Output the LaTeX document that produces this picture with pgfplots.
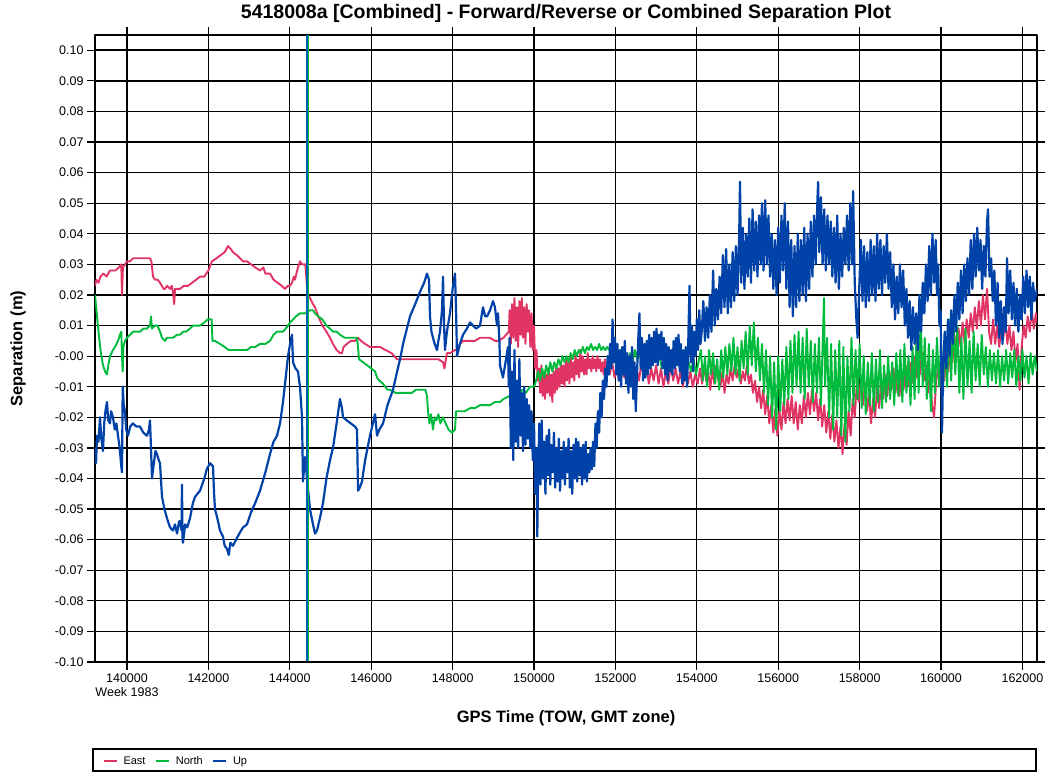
\documentclass[border=0pt]{standalone}
\usepackage{pgfplots}
\usepackage{pgfplotstable}
\pgfplotsset{compat=1.18}
\usepackage{fontspec}
\setmainfont{Liberation Sans}
\definecolor{eastc}{RGB}{224,52,100}
\definecolor{northc}{RGB}{0,187,60}
\definecolor{upc}{RGB}{0,66,168}

\pgfplotstableread{
x y
139214 0.023
139250 0.025
139300 0.024
139350 0.026
139420 0.027
139500 0.026
139580 0.028
139650 0.028
139720 0.028
139800 0.029
139860 0.030
139877 0.020
139900 0.029
139951 0.030
140000 0.031
140074 0.031
140150 0.032
140250 0.032
140319 0.032
140400 0.032
140491 0.032
140565 0.032
140600 0.031
140640 0.026
140688 0.025
140750 0.025
140811 0.024
140900 0.022
140934 0.022
140983 0.023
141057 0.022
141100 0.023
141130 0.021
141160 0.017
141180 0.022
141229 0.022
141302 0.022
141400 0.023
141500 0.023
141600 0.024
141700 0.025
141794 0.026
141900 0.026
142000 0.028
142088 0.031
142200 0.032
142300 0.033
142400 0.034
142482 0.036
142550 0.035
142604 0.034
142700 0.033
142776 0.032
142850 0.031
142948 0.031
143050 0.030
143150 0.029
143268 0.028
143350 0.029
143400 0.027
143514 0.027
143600 0.025
143700 0.024
143800 0.023
143882 0.022
143956 0.023
144005 0.023
144054 0.024
144100 0.026
144128 0.025
144180 0.028
144251 0.031
144300 0.030
144380 0.030
144440 0.020
144496 0.019
144570 0.017
144619 0.016
144700 0.013
144800 0.010
144900 0.008
144988 0.006
145061 0.004
145150 0.002
145233 0.001
145282 0.001
145320 0.003
145405 0.004
145500 0.005
145602 0.005
145676 0.006
145750 0.005
145850 0.004
145971 0.003
146094 0.003
146216 0.003
146350 0.002
146500 0.001
146634 -0.001
146750 -0.001
146900 -0.001
147050 -0.001
147200 -0.001
147350 -0.001
147500 -0.001
147650 -0.001
147764 -0.002
147800 -0.004
147836 -0.001
147862 0.001
147936 0.001
148059 0.002
148108 0.002
148182 0.004
148256 0.005
148350 0.005
148428 0.005
148550 0.005
148673 0.006
148800 0.006
148919 0.006
149040 0.005
149115 0.005
149250 0.006
149380 0.008
149400 0.015
149430 0.004
149460 0.017
149490 0.006
149520 0.019
149550 0.005
149580 0.016
149610 0.003
149640 0.018
149670 0.007
149700 0.019
149730 0.006
149760 0.016
149790 0.004
149820 0.017
149850 0.008
149880 0.015
149910 0.003
149940 0.014
149970 0.002
150000 0.010
150030 -0.004
150060 0.002
150090 -0.008
150120 -0.004
150150 -0.012
150180 -0.003
150210 -0.013
150240 -0.005
150270 -0.014
150300 -0.006
150330 -0.012
150360 -0.004
150390 -0.013
150420 -0.006
150450 -0.015
150480 -0.005
150510 -0.012
150540 -0.003
150570 -0.011
150600 -0.004
150630 -0.010
150660 -0.002
150690 -0.009
150720 -0.003
150750 -0.010
150780 -0.001
150810 -0.008
150840 -0.002
150870 -0.009
150900 0.000
150930 -0.007
150960 -0.002
150990 -0.008
151020 0.001
151050 -0.006
151080 -0.001
151110 -0.007
151140 0.002
151170 -0.005
151200 0.000
151230 -0.006
151260 -0.001
151290 -0.006
151320 0.001
151350 -0.004
151380 -0.001
151410 -0.005
151440 0.000
151470 -0.004
151500 -0.001
151530 -0.005
151560 0.000
151590 -0.004
151620 -0.001
151650 -0.005
151680 -0.002
151710 -0.006
151740 -0.001
151770 -0.004
151800 -0.002
151860 -0.006
151920 -0.002
151980 -0.007
152040 -0.003
152100 -0.008
152160 -0.002
152220 -0.007
152280 -0.001
152340 -0.008
152400 -0.003
152460 -0.009
152520 -0.004
152580 -0.008
152640 -0.002
152700 -0.007
152760 -0.003
152820 -0.009
152880 -0.004
152940 -0.008
153000 -0.003
153060 -0.009
153120 -0.004
153180 -0.010
153240 -0.005
153300 -0.009
153360 -0.003
153420 -0.008
153480 -0.004
153540 -0.009
153600 -0.005
153660 -0.010
153720 -0.004
153780 -0.009
153840 -0.005
153900 -0.010
153960 -0.006
154020 -0.009
154080 -0.004
154130 -0.009
154180 -0.003
154230 -0.008
154280 -0.005
154330 -0.011
154380 -0.004
154430 -0.009
154480 -0.003
154530 -0.008
154580 -0.010
154630 -0.005
154680 -0.012
154730 -0.006
154780 -0.009
154830 -0.004
154880 -0.008
154930 -0.003
154980 -0.007
155030 -0.004
155080 -0.009
155130 -0.005
155180 -0.008
155230 -0.003
155280 -0.009
155330 -0.006
155380 -0.012
155430 -0.008
155480 -0.015
155530 -0.010
155580 -0.017
155630 -0.011
155680 -0.019
155730 -0.013
155780 -0.022
155830 -0.016
155880 -0.025
155930 -0.017
155980 -0.026
156030 -0.018
156080 -0.024
156130 -0.015
156180 -0.022
156230 -0.014
156280 -0.021
156330 -0.013
156380 -0.022
156430 -0.015
156480 -0.024
156530 -0.016
156580 -0.022
156630 -0.013
156680 -0.020
156730 -0.012
156780 -0.019
156830 -0.011
156880 -0.018
156930 -0.012
156980 -0.021
157030 -0.014
157080 -0.023
157130 -0.016
157180 -0.025
157230 -0.018
157280 -0.027
157330 -0.019
157380 -0.028
157430 -0.021
157480 -0.030
157530 -0.023
157580 -0.032
157630 -0.022
157680 -0.029
157730 -0.018
157780 -0.026
157830 -0.014
157880 -0.020
157930 -0.009
157980 -0.015
158030 -0.008
158080 -0.016
158130 -0.009
158180 -0.018
158230 -0.012
158280 -0.022
158330 -0.014
158380 -0.020
158430 -0.010
158480 -0.017
158530 -0.008
158580 -0.014
158630 -0.006
158680 -0.013
158730 -0.005
158780 -0.011
158830 -0.004
158880 -0.012
158930 -0.006
158980 -0.013
159030 -0.005
159080 -0.011
159130 -0.003
159180 -0.010
159230 -0.002
159280 -0.009
159330 0.000
159380 -0.007
159430 0.002
159480 -0.006
159530 0.001
159580 -0.008
159630 -0.003
159680 -0.012
159730 -0.006
159780 -0.016
159830 -0.020
159880 -0.008
159930 -0.004
159980 -0.010
160030 -0.002
160080 -0.008
160130 0.000
160180 -0.005
160230 0.004
160280 -0.002
160330 0.007
160380 0.001
160430 0.009
160480 0.003
160530 0.011
160580 0.004
160630 0.012
160680 0.006
160730 0.014
160780 0.008
160830 0.016
160880 0.009
160930 0.018
160980 0.010
161030 0.020
161080 0.012
161130 0.022
161180 0.008
161230 0.004
161280 0.012
161330 0.004
161380 0.010
161430 0.003
161480 0.009
161530 0.006
161580 0.012
161630 0.004
161680 0.010
161730 0.002
161780 0.008
161830 -0.002
161880 0.004
161930 -0.011
161980 0.003
162030 0.010
162080 0.006
162130 0.013
162180 0.008
162230 0.015
162280 0.009
162330 0.014
162358 0.011
}\east

\pgfplotstableread{
x y
139214 0.020
139250 0.015
139300 0.008
139350 0.002
139410 -0.003
139460 -0.005
139509 -0.006
139540 -0.003
139582 0.000
139620 0.001
139656 0.002
139705 0.003
139779 0.005
139828 0.007
139860 0.008
139877 0.000
139895 -0.005
139910 0.003
139951 0.005
140000 0.006
140074 0.007
140150 0.008
140250 0.008
140319 0.008
140400 0.009
140491 0.009
140565 0.010
140590 0.013
140614 0.009
140688 0.010
140750 0.010
140811 0.008
140860 0.006
140934 0.005
140983 0.006
141057 0.006
141130 0.006
141229 0.007
141302 0.007
141376 0.008
141450 0.008
141548 0.009
141620 0.010
141700 0.010
141794 0.010
141900 0.011
141980 0.012
142039 0.012
142080 0.012
142100 0.005
142160 0.005
142285 0.004
142400 0.003
142500 0.002
142604 0.002
142700 0.002
142800 0.002
142948 0.002
143050 0.003
143150 0.003
143268 0.004
143400 0.004
143514 0.005
143600 0.007
143686 0.008
143760 0.008
143833 0.008
143900 0.009
143956 0.010
144005 0.011
144080 0.012
144150 0.013
144250 0.014
144373 0.014
144496 0.015
144570 0.015
144619 0.014
144700 0.013
144800 0.012
144900 0.010
144988 0.009
145061 0.008
145150 0.008
145233 0.007
145350 0.006
145500 0.006
145651 0.006
145676 0.003
145700 -0.001
145800 -0.002
145900 -0.003
146000 -0.004
146094 -0.005
146143 -0.007
146200 -0.008
146290 -0.009
146400 -0.011
146462 -0.011
146600 -0.012
146750 -0.012
146880 -0.012
147000 -0.012
147100 -0.011
147199 -0.011
147273 -0.011
147330 -0.011
147371 -0.013
147396 -0.018
147430 -0.022
147470 -0.019
147518 -0.024
147560 -0.020
147600 -0.021
147650 -0.019
147700 -0.022
147764 -0.020
147830 -0.022
147900 -0.024
147980 -0.025
148059 -0.024
148085 -0.018
148150 -0.018
148300 -0.018
148428 -0.017
148550 -0.017
148673 -0.016
148800 -0.016
148919 -0.016
149040 -0.015
149115 -0.015
149165 -0.015
149250 -0.014
149400 -0.013
149500 -0.012
149600 -0.013
149700 -0.011
149800 -0.012
149900 -0.010
150000 -0.010
150050 -0.008
150100 -0.005
150150 -0.008
150200 -0.004
150250 -0.007
150300 -0.003
150350 -0.006
150400 -0.002
150450 -0.005
150500 -0.002
150550 -0.004
150600 -0.001
150650 -0.003
150700 0.000
150750 -0.002
150800 0.000
150850 -0.002
150900 0.001
150950 -0.001
151000 0.002
151050 0.000
151100 0.002
151150 0.001
151200 0.003
151250 0.001
151300 0.003
151350 0.002
151400 0.004
151450 0.002
151500 0.003
151550 0.002
151600 0.004
151650 0.002
151700 0.003
151750 0.002
151800 0.003
151850 0.002
151900 0.003
151950 0.001
152000 0.002
152060 -0.001
152120 0.002
152180 -0.002
152240 0.001
152300 -0.003
152360 0.001
152420 -0.002
152480 0.002
152540 -0.001
152600 0.001
152660 -0.003
152720 0.000
152780 -0.004
152840 0.000
152900 -0.003
152960 0.001
153020 -0.002
153080 0.000
153140 -0.004
153200 -0.001
153260 -0.005
153320 -0.001
153380 -0.004
153440 0.000
153500 -0.003
153560 -0.001
153620 -0.005
153680 -0.002
153740 -0.006
153800 -0.002
153860 -0.005
153920 -0.001
153980 -0.006
154040 -0.002
154100 0.002
154150 -0.008
154200 0.000
154250 -0.010
154300 0.002
154350 -0.006
154400 0.001
154450 -0.009
154500 -0.001
154550 -0.011
154600 0.002
154650 -0.007
154700 0.003
154750 -0.006
154800 0.004
154850 -0.005
154900 0.006
154950 -0.006
155000 0.003
155050 -0.008
155100 0.005
155150 -0.004
155200 0.008
155250 -0.006
155300 0.010
155350 -0.003
155400 0.011
155450 -0.005
155500 0.006
155550 -0.008
155600 0.004
155650 -0.012
155700 0.002
155750 -0.016
155800 0.000
155850 -0.020
155900 -0.002
155950 -0.024
156000 0.000
156050 -0.018
156100 -0.001
156150 -0.016
156200 0.003
156250 -0.014
156300 0.005
156350 -0.012
156400 0.007
156450 -0.010
156500 0.008
156550 -0.012
156600 0.006
156650 -0.014
156700 0.009
156750 -0.010
156800 0.005
156850 -0.015
156900 0.004
156950 -0.012
157000 0.006
157050 -0.016
157100 0.008
157125 0.019
157150 -0.010
157200 0.006
157250 -0.020
157300 0.004
157350 -0.024
157400 0.002
157450 -0.020
157500 0.005
157550 -0.026
157600 0.003
157650 -0.028
157700 0.000
157750 -0.018
157800 0.006
157850 -0.016
157900 0.002
157950 -0.014
158000 0.004
158050 -0.017
158100 0.000
158150 -0.019
158200 -0.002
158250 -0.016
158300 0.001
158350 -0.018
158400 -0.001
158450 -0.015
158500 0.002
158550 -0.017
158600 -0.003
158650 -0.015
158700 0.000
158750 -0.014
158800 -0.002
158850 -0.016
158900 0.001
158950 -0.013
159000 0.002
159050 -0.015
159100 0.004
159150 -0.012
159200 0.000
159250 -0.016
159300 0.003
159350 -0.014
159400 0.008
159450 -0.012
159500 0.013
159550 -0.010
159600 0.006
159650 -0.014
159700 0.004
159750 -0.018
159800 0.002
159850 -0.012
159900 0.006
159950 -0.010
160000 0.004
160050 -0.012
160100 0.008
160150 -0.010
160200 0.012
160250 -0.008
160300 0.014
160350 -0.006
160400 0.010
160450 -0.012
160500 0.006
160550 -0.014
160600 0.009
160650 -0.010
160700 0.005
160750 -0.012
160800 0.008
160850 -0.008
160900 0.004
160950 -0.010
161000 0.007
161050 -0.006
161100 0.003
161150 -0.010
161200 0.002
161250 -0.008
161300 0.001
161350 -0.009
161400 0.002
161450 -0.010
161500 0.000
161550 -0.008
161600 0.002
161650 -0.009
161700 0.001
161750 -0.007
161800 0.002
161850 -0.010
161900 0.000
161950 -0.008
162000 0.002
162050 -0.007
162100 0.000
162150 -0.009
162200 0.001
162250 -0.006
162300 0.000
162358 -0.005
}\north

\pgfplotstableread{
x y
139214 -0.030
139240 -0.035
139263 -0.026
139300 -0.028
139337 -0.020
139370 -0.027
139410 -0.031
139440 -0.022
139470 -0.018
139509 -0.015
139540 -0.021
139582 -0.022
139610 -0.018
139656 -0.020
139700 -0.024
139740 -0.022
139779 -0.026
139820 -0.030
139860 -0.036
139877 -0.038
139895 -0.010
139920 -0.016
139951 -0.018
139980 -0.024
140025 -0.026
140080 -0.023
140147 -0.022
140230 -0.023
140319 -0.023
140400 -0.025
140491 -0.026
140540 -0.024
140565 -0.021
140590 -0.030
140614 -0.040
140650 -0.036
140700 -0.031
140737 -0.032
140780 -0.034
140811 -0.035
140860 -0.046
140920 -0.050
140983 -0.053
141057 -0.056
141130 -0.057
141180 -0.055
141229 -0.058
141280 -0.054
141302 -0.054
141340 -0.057
141351 -0.042
141365 -0.060
141376 -0.061
141430 -0.055
141480 -0.056
141548 -0.053
141620 -0.048
141671 -0.046
141794 -0.044
141900 -0.040
141960 -0.037
142039 -0.035
142113 -0.036
142140 -0.045
142162 -0.050
142220 -0.053
142285 -0.057
142359 -0.059
142400 -0.062
142457 -0.063
142500 -0.065
142540 -0.061
142604 -0.062
142680 -0.060
142760 -0.058
142850 -0.056
142948 -0.055
143050 -0.051
143150 -0.048
143268 -0.044
143400 -0.038
143514 -0.032
143600 -0.028
143686 -0.026
143760 -0.022
143833 -0.015
143900 -0.007
143956 0.000
144020 0.005
144054 0.007
144079 -0.002
144140 -0.004
144201 -0.005
144250 -0.010
144300 -0.020
144324 -0.041
144373 -0.033
144422 -0.040
144496 -0.050
144570 -0.055
144620 -0.058
144668 -0.057
144740 -0.053
144816 -0.048
144900 -0.040
144988 -0.034
145061 -0.030
145150 -0.022
145233 -0.014
145282 -0.017
145307 -0.020
145400 -0.021
145500 -0.022
145600 -0.023
145651 -0.024
145665 -0.035
145676 -0.044
145720 -0.043
145774 -0.041
145850 -0.034
145971 -0.026
146040 -0.022
146094 -0.019
146143 -0.026
146200 -0.024
146290 -0.022
146400 -0.016
146536 -0.011
146620 -0.006
146708 -0.001
146800 0.005
146954 0.013
147080 0.017
147199 0.021
147300 0.024
147371 0.027
147420 0.025
147445 0.013
147480 0.008
147518 0.006
147560 0.004
147617 0.002
147650 0.005
147690 0.008
147740 0.015
147764 0.026
147790 0.010
147813 0.002
147860 0.008
147936 0.014
148000 0.022
148059 0.027
148085 0.015
148108 0.000
148180 0.004
148256 0.007
148350 0.009
148428 0.011
148501 0.010
148580 0.009
148673 0.010
148747 0.016
148800 0.013
148845 0.013
148919 0.015
148993 0.018
149040 0.016
149091 0.010
149115 0.014
149150 0.005
149165 -0.003
149200 -0.005
149238 -0.007
149300 -0.002
149361 0.003
149380 -0.010
149400 0.006
149430 -0.030
149460 -0.005
149490 -0.034
149520 0.002
149550 -0.028
149580 -0.008
149610 -0.030
149640 -0.001
149670 -0.026
149700 -0.012
149730 -0.031
149760 -0.010
149790 -0.029
149820 -0.014
149850 -0.027
149880 -0.016
149910 -0.030
149940 -0.018
149970 -0.034
150000 -0.022
150030 -0.045
150060 -0.030
150080 -0.059
150100 -0.040
150130 -0.022
150160 -0.042
150190 -0.021
150220 -0.040
150250 -0.028
150280 -0.045
150310 -0.026
150340 -0.039
150370 -0.024
150400 -0.042
150430 -0.029
150460 -0.038
150490 -0.025
150520 -0.043
150550 -0.030
150580 -0.041
150610 -0.027
150640 -0.044
150670 -0.031
150700 -0.040
150730 -0.028
150760 -0.042
150790 -0.030
150820 -0.038
150850 -0.027
150880 -0.043
150910 -0.031
150940 -0.045
150970 -0.029
151000 -0.040
151030 -0.027
151060 -0.041
151090 -0.028
151120 -0.039
151150 -0.030
151180 -0.042
151210 -0.029
151240 -0.040
151270 -0.028
151300 -0.041
151330 -0.032
151360 -0.038
151390 -0.030
151420 -0.037
151450 -0.028
151480 -0.036
151510 -0.022
151540 -0.030
151570 -0.018
151600 -0.025
151630 -0.012
151660 -0.020
151690 -0.008
151720 -0.014
151750 -0.004
151780 -0.010
151810 0.000
151840 -0.006
151870 0.004
151900 -0.004
151930 0.012
151960 -0.002
151990 0.006
152020 -0.006
152050 0.004
152080 -0.008
152110 0.002
152140 -0.010
152170 0.003
152200 -0.006
152230 0.005
152260 -0.009
152290 0.001
152320 -0.012
152350 0.000
152380 -0.010
152410 0.003
152440 -0.014
152470 -0.002
152500 -0.018
152530 -0.006
152560 0.005
152590 0.014
152620 -0.004
152650 0.006
152680 -0.008
152710 0.004
152740 -0.007
152770 0.005
152800 -0.006
152830 0.007
152860 -0.004
152890 0.006
152920 -0.003
152950 0.008
152980 -0.002
153010 0.009
153040 -0.003
153070 0.007
153100 -0.001
153130 0.008
153160 -0.004
153190 0.006
153220 -0.006
153250 0.004
153280 -0.008
153310 0.003
153340 -0.005
153370 0.002
153400 -0.006
153430 0.005
153460 -0.004
153490 0.006
153520 -0.003
153550 0.007
153580 -0.005
153610 0.004
153640 -0.009
153670 0.002
153700 -0.008
153730 0.003
153760 -0.010
153790 0.005
153820 0.023
153850 -0.002
153880 0.010
153910 -0.005
153940 0.008
153970 0.000
154000 0.012
154030 0.002
154060 0.015
154090 0.004
154120 0.008
154160 0.018
154200 0.005
154240 0.016
154280 0.006
154320 0.020
154360 0.008
154400 0.028
154440 0.010
154480 0.022
154520 0.012
154560 0.026
154600 0.014
154640 0.033
154680 0.016
154720 0.035
154760 0.014
154800 0.030
154840 0.016
154880 0.034
154920 0.018
154960 0.036
155000 0.020
155040 0.039
155061 0.057
155090 0.024
155130 0.042
155170 0.022
155210 0.040
155250 0.026
155290 0.045
155330 0.024
155370 0.048
155410 0.028
155450 0.044
155490 0.026
155530 0.046
155570 0.030
155600 0.050
155640 0.028
155680 0.051
155720 0.030
155760 0.046
155800 0.026
155840 0.040
155880 0.022
155920 0.038
155960 0.020
156000 0.042
156040 0.024
156080 0.046
156120 0.028
156160 0.050
156200 0.022
156240 0.044
156280 0.016
156320 0.038
156360 0.013
156400 0.036
156440 0.016
156480 0.040
156520 0.018
156560 0.038
156600 0.020
156640 0.042
156680 0.018
156720 0.040
156760 0.022
156800 0.044
156840 0.026
156880 0.046
156920 0.030
156960 0.050
156980 0.057
157010 0.034
157050 0.052
157090 0.030
157130 0.048
157170 0.028
157210 0.046
157250 0.030
157290 0.044
157330 0.026
157370 0.042
157410 0.024
157450 0.046
157490 0.022
157530 0.040
157570 0.026
157610 0.042
157650 0.030
157690 0.046
157730 0.028
157770 0.050
157810 0.030
157840 0.054
157880 0.024
157920 0.012
157950 0.006
157990 0.022
158030 0.038
158070 0.018
158110 0.036
158150 0.016
158190 0.034
158230 0.018
158270 0.038
158310 0.020
158350 0.036
158390 0.018
158430 0.040
158470 0.022
158510 0.038
158550 0.020
158590 0.036
158630 0.024
158670 0.040
158710 0.022
158750 0.034
158790 0.016
158830 0.030
158870 0.012
158910 0.026
158950 0.014
158990 0.030
159030 0.016
159070 0.028
159110 0.010
159150 0.022
159190 0.006
159230 0.018
159270 0.002
159310 0.016
159350 0.004
159390 0.014
159430 0.002
159470 0.020
159510 0.008
159550 0.024
159590 0.014
159630 0.030
159670 0.018
159710 0.036
159750 0.020
159790 0.040
159830 0.024
159870 0.038
159900 0.020
159930 0.030
159960 0.010
159990 0.015
160024 -0.025
160050 -0.005
160090 0.008
160130 -0.004
160170 0.012
160210 0.000
160250 0.015
160290 0.004
160330 0.020
160370 0.008
160410 0.024
160450 0.012
160490 0.028
160530 0.014
160570 0.030
160610 0.018
160650 0.032
160690 0.020
160730 0.038
160770 0.022
160810 0.040
160850 0.026
160890 0.042
160930 0.028
160970 0.038
161010 0.022
161050 0.036
161090 0.026
161130 0.044
161155 0.048
161190 0.026
161230 0.032
161270 0.018
161310 0.028
161350 0.010
161390 0.024
161430 0.006
161470 0.018
161510 0.004
161550 0.016
161590 0.008
161622 0.032
161660 0.014
161700 0.028
161740 0.012
161780 0.024
161820 0.010
161860 0.022
161900 0.008
161940 0.020
161980 0.012
162020 0.026
162060 0.014
162100 0.028
162140 0.016
162180 0.026
162220 0.012
162260 0.024
162300 0.018
162358 0.022
}\up

\begin{document}
\begin{tikzpicture}
\begin{axis}[
  scale only axis,
  width=942pt, height=627pt,
  xmin=139214, xmax=162358,
  ymin=-0.10, ymax=0.105,
  scaled x ticks=false, scaled y ticks=false,
  axis line style={black, line width=1.6pt},
  tick style={black, line width=1.2pt},
  tick align=outside,
  major tick length=8pt,
  grid=major,
  major grid style={black, line width=1.3pt},
  xtick={140000,142000,144000,146000,148000,150000,152000,154000,156000,158000,160000,162000},
  xticklabels={{140000\\Week 1983},142000,144000,146000,148000,150000,152000,154000,156000,158000,160000,162000},
  xticklabel style={align=center, font=\fontsize{12.5}{14.3}\selectfont},
  ytick={-0.10,-0.09,-0.08,-0.07,-0.06,-0.05,-0.04,-0.03,-0.02,-0.01,0,0.01,0.02,0.03,0.04,0.05,0.06,0.07,0.08,0.09,0.10},
  yticklabels={-0.10,-0.09,-0.08,-0.07,-0.06,-0.05,-0.04,-0.03,-0.02,-0.01,-0.00,0.01,0.02,0.03,0.04,0.05,0.06,0.07,0.08,0.09,0.10},
  yticklabel style={font=\fontsize{12.5}{14}\selectfont},
  title={5418008a [Combined] - Forward/Reverse or Combined Separation Plot},
  title style={at={(axis description cs:0.5,1)}, anchor=center, yshift=16pt, font=\fontsize{19.5}{22}\bfseries\selectfont},
  xlabel={GPS Time (TOW, GMT zone)},
  xlabel style={at={(axis description cs:0.5,-0.0893)}, anchor=center, font=\fontsize{16.5}{18}\bfseries\selectfont},
  ylabel={Separation (m)},
  ylabel style={at={(axis description cs:-0.0817,0.5)}, anchor=center, font=\fontsize{16.5}{18}\bfseries\selectfont},
  legend columns=3,
  legend style={at={(axis description cs:0,0)}, anchor=west, xshift=8pt, yshift=-99pt, draw=none, fill=none, inner sep=0pt,
    font=\fontsize{11}{12}\selectfont,
    /tikz/every odd column/.append style={column sep=4pt},
    /tikz/every even column/.append style={column sep=8pt}},
  legend image post style={xscale=0.75, line width=1.5pt},
  line join=round,
]
\addplot[black, line width=2pt, forget plot] coordinates {(139214,0.10) (162358,0.10)};
\addplot[eastc, line width=1.9pt] table[x=x,y=y] {\east};
\addlegendentry{East}
\addplot[northc, line width=1.9pt] table[x=x,y=y] {\north};
\addlegendentry{North}
\addplot[upc, line width=2.2pt] table[x=x,y=y] {\up};
\addlegendentry{Up}
\addplot[northc, line width=2.5pt, forget plot] coordinates {(144445,-0.10) (144445,0.105)};
\addplot[upc!85!cyan, line width=2.5pt, forget plot] coordinates {(144422,-0.10) (144422,0.105)};
\addplot[black, line width=2pt, forget plot] coordinates {(139214,-0.10) (162358,-0.10)};
\end{axis}
\draw[black, line width=1.2pt] ([shift={(-2pt,-87pt)}]current axis.south west) rectangle ([shift={(-1pt,-109pt)}]current axis.south east);
\path[use as bounding box] ([shift={(-95pt,-110pt)}]current axis.south west) rectangle ([shift={(11pt,35pt)}]current axis.north east);
\end{tikzpicture}
\end{document}
